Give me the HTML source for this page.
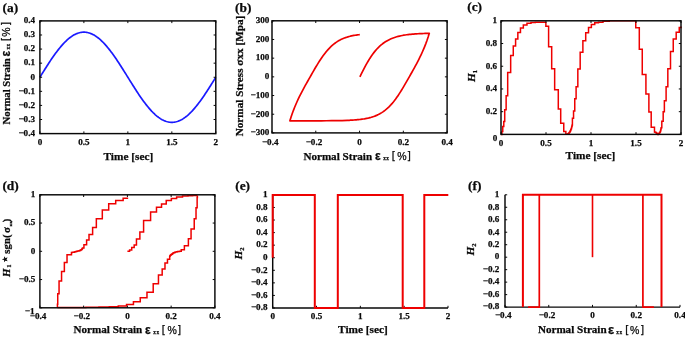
<!DOCTYPE html>
<html><head><meta charset="utf-8"><title>Figure</title>
<style>
html,body{margin:0;padding:0;background:#fff;}
body{width:685px;height:337px;overflow:hidden;font-family:"Liberation Serif",serif;}
svg{display:block;will-change:transform;filter:blur(0.3px);}
svg text{font-family:"Liberation Serif",serif;font-weight:bold;fill:#0a0a0a;stroke:#0a0a0a;stroke-width:0.25px;}
</style></head><body>
<svg width="685" height="337" viewBox="0 0 685 337">
<path d="M39.9 77.25L40.78 75.83L41.66 74.42L42.54 73.01L43.42 71.6L44.3 70.2L45.18 68.8L46.06 67.42L46.94 66.04L47.82 64.67L48.7 63.32L49.57 61.98L50.45 60.65L51.33 59.35L52.21 58.06L53.09 56.78L53.97 55.53L54.85 54.3L55.73 53.09L56.61 51.91L57.49 50.75L58.37 49.62L59.25 48.51L60.13 47.44L61.01 46.39L61.89 45.37L62.77 44.39L63.65 43.43L64.53 42.52L65.41 41.63L66.28 40.78L67.16 39.97L68.04 39.19L68.92 38.45L69.8 37.75L70.68 37.08L71.56 36.46L72.44 35.88L73.32 35.34L74.2 34.84L75.08 34.38L75.96 33.96L76.84 33.59L77.72 33.26L78.6 32.97L79.48 32.73L80.36 32.53L81.24 32.37L82.12 32.26L83 32.19L83.88 32.17L84.75 32.19L85.63 32.26L86.51 32.37L87.39 32.53L88.27 32.73L89.15 32.97L90.03 33.26L90.91 33.59L91.79 33.96L92.67 34.38L93.55 34.84L94.43 35.34L95.31 35.88L96.19 36.46L97.07 37.08L97.95 37.75L98.83 38.45L99.71 39.19L100.59 39.97L101.47 40.78L102.34 41.63L103.22 42.52L104.1 43.43L104.98 44.39L105.86 45.37L106.74 46.39L107.62 47.44L108.5 48.51L109.38 49.62L110.26 50.75L111.14 51.91L112.02 53.09L112.9 54.3L113.78 55.53L114.66 56.78L115.54 58.06L116.42 59.35L117.3 60.65L118.18 61.98L119.06 63.32L119.93 64.67L120.81 66.04L121.69 67.42L122.57 68.8L123.45 70.2L124.33 71.6L125.21 73.01L126.09 74.42L126.97 75.83L127.85 77.25L128.73 78.67L129.61 80.08L130.49 81.49L131.37 82.9L132.25 84.3L133.13 85.7L134.01 87.08L134.89 88.46L135.77 89.83L136.65 91.18L137.52 92.52L138.4 93.85L139.28 95.15L140.16 96.44L141.04 97.72L141.92 98.97L142.8 100.2L143.68 101.41L144.56 102.59L145.44 103.75L146.32 104.88L147.2 105.99L148.08 107.06L148.96 108.11L149.84 109.13L150.72 110.11L151.6 111.07L152.48 111.98L153.36 112.87L154.24 113.72L155.11 114.53L155.99 115.31L156.87 116.05L157.75 116.75L158.63 117.42L159.51 118.04L160.39 118.62L161.27 119.16L162.15 119.66L163.03 120.12L163.91 120.54L164.79 120.91L165.67 121.24L166.55 121.53L167.43 121.77L168.31 121.97L169.19 122.13L170.07 122.24L170.95 122.31L171.83 122.33L172.7 122.31L173.58 122.24L174.46 122.13L175.34 121.97L176.22 121.77L177.1 121.53L177.98 121.24L178.86 120.91L179.74 120.54L180.62 120.12L181.5 119.66L182.38 119.16L183.26 118.62L184.14 118.04L185.02 117.42L185.9 116.75L186.78 116.05L187.66 115.31L188.54 114.53L189.42 113.72L190.29 112.87L191.17 111.98L192.05 111.07L192.93 110.11L193.81 109.13L194.69 108.11L195.57 107.06L196.45 105.99L197.33 104.88L198.21 103.75L199.09 102.59L199.97 101.41L200.85 100.2L201.73 98.97L202.61 97.72L203.49 96.44L204.37 95.15L205.25 93.85L206.13 92.52L207 91.18L207.88 89.83L208.76 88.46L209.64 87.08L210.52 85.7L211.4 84.3L212.28 82.9L213.16 81.49L214.04 80.08L214.92 78.67L215.8 77.25" fill="none" stroke="#1a1aff" stroke-width="1.7" stroke-linejoin="round" stroke-linecap="butt"/>
<rect x="39.9" y="20.9" width="175.9" height="112.7" fill="none" stroke="#080808" stroke-width="1.45"/>
<path d="M39.9 133.6v-2.2M39.9 20.9v2.2M83.88 133.6v-2.2M83.88 20.9v2.2M127.85 133.6v-2.2M127.85 20.9v2.2M171.83 133.6v-2.2M171.83 20.9v2.2M215.8 133.6v-2.2M215.8 20.9v2.2M39.9 20.9h2.2M215.8 20.9h-2.2M39.9 34.99h2.2M215.8 34.99h-2.2M39.9 49.07h2.2M215.8 49.07h-2.2M39.9 63.16h2.2M215.8 63.16h-2.2M39.9 77.25h2.2M215.8 77.25h-2.2M39.9 91.34h2.2M215.8 91.34h-2.2M39.9 105.42h2.2M215.8 105.42h-2.2M39.9 119.51h2.2M215.8 119.51h-2.2M39.9 133.6h2.2M215.8 133.6h-2.2" fill="none" stroke="#080808" stroke-width="1.0"/>
<text x="39.9" y="144.6" font-size="9.1" text-anchor="middle" >0</text>
<text x="83.88" y="144.6" font-size="9.1" text-anchor="middle" >0.5</text>
<text x="127.85" y="144.6" font-size="9.1" text-anchor="middle" >1</text>
<text x="171.83" y="144.6" font-size="9.1" text-anchor="middle" >1.5</text>
<text x="215.8" y="144.6" font-size="9.1" text-anchor="middle" >2</text>
<text x="35" y="23.2" font-size="9.1" text-anchor="end" >0.4</text>
<text x="35" y="37.29" font-size="9.1" text-anchor="end" >0.3</text>
<text x="35" y="51.37" font-size="9.1" text-anchor="end" >0.2</text>
<text x="35" y="65.46" font-size="9.1" text-anchor="end" >0.1</text>
<text x="35" y="79.55" font-size="9.1" text-anchor="end" >0</text>
<text x="35" y="93.64" font-size="9.1" text-anchor="end" >−0.1</text>
<text x="35" y="107.72" font-size="9.1" text-anchor="end" >−0.2</text>
<text x="35" y="121.81" font-size="9.1" text-anchor="end" >−0.3</text>
<text x="35" y="135.9" font-size="9.1" text-anchor="end" >−0.4</text>
<text x="128.35" y="159.9" font-size="11.3" text-anchor="middle" >Time [sec]</text>
<text x="2.6" y="11.6" font-size="13.4" text-anchor="start" >(a)</text>
<g transform="translate(9.7 124.4) rotate(-90)">
<text x="0" y="0" font-size="10.7" text-anchor="start" >Normal Strain</text>
<text x="68" y="0.3" font-size="12" text-anchor="start" style="font-family:'Liberation Sans'">&#949;</text>
<text x="74.8" y="0.2" font-size="5.2" text-anchor="start" letter-spacing="0.5">xx</text>
<text x="83.3" y="-0.4" font-size="11" text-anchor="start" style="font-family:'Liberation Sans';font-weight:normal">[</text>
<text x="87.6" y="0.2" font-size="10.5" text-anchor="start" style="font-family:'Liberation Sans';font-weight:normal">%</text>
<text x="99.4" y="-0.4" font-size="11" text-anchor="start" style="font-family:'Liberation Sans';font-weight:normal">]</text>
</g>
<path d="M359.9 76.9L361.32 73.99L362.73 71.14L364.15 68.37L365.57 65.7L366.98 63.14L368.4 60.71L369.81 58.42L371.23 56.26L372.65 54.25L374.06 52.37L375.48 50.63L376.9 49.02L378.31 47.54L379.73 46.18L381.14 44.93L382.56 43.79L383.98 42.74L385.39 41.8L386.81 40.93L388.23 40.15L389.64 39.44L391.06 38.8L392.48 38.21L393.89 37.69L395.31 37.21L396.72 36.79L398.14 36.4L399.56 36.05L400.97 35.74L402.39 35.46L403.81 35.21L405.22 34.98L406.64 34.78L408.06 34.59L409.47 34.43L410.89 34.28L412.3 34.15L413.72 34.03L415.14 33.92L416.55 33.83L417.97 33.74L419.39 33.66L420.8 33.59L422.22 33.53L423.63 33.48L425.05 33.43L426.47 33.38L427.88 33.34L429.3 33.31L429.3 33.31L428.14 37.01L426.98 40.43L425.82 43.61L424.66 46.58L423.5 49.38L422.34 52.03L421.18 54.56L420.02 56.99L418.87 59.33L417.71 61.6L416.55 63.8L415.39 65.96L414.23 68.08L413.07 70.16L411.91 72.23L410.75 74.27L409.59 76.31L408.43 78.35L407.27 80.39L406.11 82.41L404.95 84.42L403.79 86.4L402.63 88.34L401.47 90.25L400.31 92.11L399.16 93.91L398 95.66L396.84 97.34L395.68 98.96L394.52 100.5L393.36 101.97L392.2 103.36L391.04 104.68L389.88 105.92L388.72 107.09L387.56 108.19L386.4 109.21L385.24 110.16L384.08 111.05L382.92 111.87L381.76 112.64L380.6 113.34L379.44 113.99L378.29 114.59L377.13 115.14L375.97 115.64L374.81 116.11L373.65 116.53L372.49 116.92L371.33 117.28L370.17 117.6L369.01 117.9L367.85 118.17L366.69 118.41L365.53 118.63L364.37 118.84L363.21 119.02L362.05 119.19L360.89 119.34L359.73 119.48L358.58 119.61L357.42 119.72L356.26 119.83L355.1 119.92L353.94 120.01L352.78 120.08L351.62 120.15L350.46 120.22L349.3 120.28L347.3 120.36L342.08 120.53L336.86 120.64L331.65 120.71L326.43 120.75L321.21 120.78L315.99 120.8L310.77 120.81L305.55 120.81L300.34 120.82L295.12 120.82L289.9 120.82L289.9 120.82L291.08 117.04L292.27 113.56L293.45 110.33L294.64 107.3L295.82 104.46L297.01 101.76L298.19 99.19L299.38 96.72L300.56 94.35L301.75 92.05L302.93 89.8L304.12 87.61L305.3 85.46L306.49 83.34L307.67 81.23L308.86 79.14L310.04 77.06L311.23 74.98L312.41 72.9L313.59 70.84L314.78 68.8L315.96 66.79L317.15 64.82L318.33 62.9L319.52 61.03L320.7 59.22L321.89 57.47L323.07 55.79L324.26 54.19L325.44 52.66L326.63 51.21L327.81 49.84L329 48.55L330.18 47.33L331.37 46.2L332.55 45.13L333.74 44.14L334.92 43.23L336.11 42.37L337.29 41.59L338.47 40.86L339.66 40.19L340.84 39.58L342.03 39.01L343.21 38.49L344.4 38.02L345.58 37.59L346.77 37.19L347.95 36.83L349.14 36.5L350.32 36.2L351.51 35.93L352.69 35.68L353.88 35.46L355.06 35.25L356.25 35.07L357.43 34.9L358.62 34.75L359.8 34.61" fill="none" stroke="#ee0000" stroke-width="1.7" stroke-linejoin="round" stroke-linecap="butt"/>
<rect x="272" y="20.8" width="175.1" height="112.1" fill="none" stroke="#080808" stroke-width="1.45"/>
<path d="M272 132.9v-2.2M272 20.8v2.2M315.77 132.9v-2.2M315.77 20.8v2.2M359.55 132.9v-2.2M359.55 20.8v2.2M403.33 132.9v-2.2M403.33 20.8v2.2M447.1 132.9v-2.2M447.1 20.8v2.2M272 20.8h2.2M447.1 20.8h-2.2M272 39.48h2.2M447.1 39.48h-2.2M272 58.17h2.2M447.1 58.17h-2.2M272 76.85h2.2M447.1 76.85h-2.2M272 95.53h2.2M447.1 95.53h-2.2M272 114.22h2.2M447.1 114.22h-2.2M272 132.9h2.2M447.1 132.9h-2.2" fill="none" stroke="#080808" stroke-width="1.0"/>
<text x="270.2" y="144.6" font-size="9.1" text-anchor="middle" >−0.4</text>
<text x="313.97" y="144.6" font-size="9.1" text-anchor="middle" >−0.2</text>
<text x="359.55" y="144.6" font-size="9.1" text-anchor="middle" >0</text>
<text x="403.33" y="144.6" font-size="9.1" text-anchor="middle" >0.2</text>
<text x="447.1" y="144.6" font-size="9.1" text-anchor="middle" >0.4</text>
<text x="269.3" y="23.1" font-size="9.1" text-anchor="end" >300</text>
<text x="269.3" y="41.78" font-size="9.1" text-anchor="end" >200</text>
<text x="269.3" y="60.47" font-size="9.1" text-anchor="end" >100</text>
<text x="269.3" y="79.15" font-size="9.1" text-anchor="end" >0</text>
<text x="269.3" y="97.83" font-size="9.1" text-anchor="end" >−100</text>
<text x="269.3" y="116.52" font-size="9.1" text-anchor="end" >−200</text>
<text x="269.3" y="135.2" font-size="9.1" text-anchor="end" >−300</text>
<text x="235" y="11.6" font-size="13.4" text-anchor="start" >(b)</text>
<text transform="translate(243.3 136.3) rotate(-90)" font-size="11.2" text-anchor="start">Normal Stress &#963;xx [Mpa]</text>
<g transform="translate(303.4 159.6)">
<text x="0" y="0" font-size="11.1" text-anchor="start" >Normal Strain</text>
<text x="71.5" y="0.3" font-size="12" text-anchor="start" style="font-family:'Liberation Sans'">&#949;</text>
<text x="79.8" y="0.2" font-size="5.2" text-anchor="start" letter-spacing="0.5">xx</text>
<text x="88.3" y="-0.4" font-size="11" text-anchor="start" style="font-family:'Liberation Sans';font-weight:normal">[</text>
<text x="93.9" y="0.2" font-size="10.5" text-anchor="start" style="font-family:'Liberation Sans';font-weight:normal">%</text>
<text x="104.4" y="-0.4" font-size="11" text-anchor="start" style="font-family:'Liberation Sans';font-weight:normal">]</text>
</g>
<path d="M501 134.4L501.9 134.4L501.9 131.56L502.76 131.56L502.76 126.56L503.78 126.56L503.78 121.56L504.72 121.56L504.72 109.64L506.13 109.64L506.13 95.78L507.69 95.78L507.69 72.49L510.67 72.49L510.67 55.56L513.28 55.56L513.28 45.91L515.59 45.91L515.59 39.09L517.84 39.09L517.84 32.5L520.46 32.5L520.46 28.07L523.34 28.07L523.34 25L526.98 25L526.98 23.3L530.98 23.3L530.98 22.5L535.32 22.5L535.32 22.16L539.58 22.16L539.58 22.16L546 22.16L546 22.16L545.87 22.16L545.87 26.25L548.6 26.25L548.6 46.7L551.69 46.7L551.69 68.85L554.66 68.85L554.66 89.76L558.29 89.76L558.29 109.01L560.7 109.01L560.7 123.32L563.75 123.32L563.75 131.39L565.85 131.39L565.85 134.17L566.41 134.17L566.41 134.36L566.97 134.36L566.97 134.25L567.5 134.25L567.5 134.06L568.03 134.06L568.03 133.64L568.55 133.64L568.55 133.23L569.06 133.23L569.06 132.81L569.48 132.81L569.48 132.13L569.89 132.13L569.89 131.45L570.3 131.45L570.3 130.76L570.7 130.76L570.7 129.7L571.1 129.7L571.1 128.64L571.49 128.64L571.49 127.58L571.8 127.58L571.8 126.26L572.1 126.26L572.1 124.93L572.41 124.93L572.41 123.61L572.42 123.61L572.42 118.27L573.54 118.27L573.54 110.88L574.76 110.88L574.76 98.84L576.1 98.84L576.1 86.69L577.83 86.69L577.83 69.08L580.18 69.08L580.18 52.15L582.88 52.15L582.88 40.79L585.71 40.79L585.71 32.73L588.53 32.73L588.53 27.39L591.36 27.39L591.36 24.44L594.74 24.44L594.74 22.84L598.48 22.84L598.48 22.28L602.98 22.28L602.98 21.25L609.21 21.25L609.21 20.8L618.17 20.8L618.17 20.8L636 20.8L636 20.8L635.76 20.8L635.76 27.73L639.3 27.73L639.3 49.2L642.26 49.2L642.26 74.53L645.92 74.53L645.92 93.96L648.88 93.96L648.88 111.91L651.2 111.91L651.2 127.24L654.48 127.24L654.48 132.01L655.08 132.01L655.08 132.32L655.66 132.32L655.66 132.62L656.23 132.62L656.23 132.92L656.78 132.92L656.78 133.42L657.32 133.42L657.32 133.91L657.86 133.91L657.86 134.4L658.29 134.4L658.29 133.98L658.72 133.98L658.72 133.57L659.15 133.57L659.15 133.15L659.57 133.15L659.57 132.54L659.98 132.54L659.98 131.94L660.39 131.94L660.39 131.33L660.63 131.33L660.63 130.16L660.87 130.16L660.87 128.99L661.1 128.99L661.1 127.81L661.81 127.81L661.81 121.22L663.18 121.22L663.18 111.68L664.37 111.68L664.37 100.66L666.1 100.66L666.1 86.69L667.83 86.69L667.83 68.74L670.5 68.74L670.5 51.47L673.25 51.47L673.25 38.98L676.19 38.98L676.19 32.16L679.25 32.16L679.25 27.62L681 27.62L681 26.48" fill="none" stroke="#ee0000" stroke-width="1.5" stroke-linejoin="miter" stroke-linecap="butt"/>
<rect x="501" y="20.8" width="180" height="113.6" fill="none" stroke="#080808" stroke-width="1.45"/>
<path d="M501 134.4v-2.2M501 20.8v2.2M546 134.4v-2.2M546 20.8v2.2M591 134.4v-2.2M591 20.8v2.2M636 134.4v-2.2M636 20.8v2.2M681 134.4v-2.2M681 20.8v2.2M501 20.8h2.2M681 20.8h-2.2M501 43.52h2.2M681 43.52h-2.2M501 66.24h2.2M681 66.24h-2.2M501 88.96h2.2M681 88.96h-2.2M501 111.68h2.2M681 111.68h-2.2M501 134.4h2.2M681 134.4h-2.2" fill="none" stroke="#080808" stroke-width="1.0"/>
<text x="501" y="145.6" font-size="9.1" text-anchor="middle" >0</text>
<text x="546" y="145.6" font-size="9.1" text-anchor="middle" >0.5</text>
<text x="591" y="145.6" font-size="9.1" text-anchor="middle" >1</text>
<text x="636" y="145.6" font-size="9.1" text-anchor="middle" >1.5</text>
<text x="681" y="145.6" font-size="9.1" text-anchor="middle" >2</text>
<text x="497.1" y="23.1" font-size="9.1" text-anchor="end" >1</text>
<text x="497.1" y="45.82" font-size="9.1" text-anchor="end" >0.8</text>
<text x="497.1" y="68.54" font-size="9.1" text-anchor="end" >0.6</text>
<text x="497.1" y="91.26" font-size="9.1" text-anchor="end" >0.4</text>
<text x="497.1" y="113.98" font-size="9.1" text-anchor="end" >0.2</text>
<text x="497.4" y="140.5" font-size="9.1" text-anchor="end" >0</text>
<text x="590.4" y="159.3" font-size="11.3" text-anchor="middle" >Time [sec]</text>
<text x="467.2" y="11.3" font-size="13.4" text-anchor="start" >(c)</text>
<text transform="translate(475.4 82) rotate(-90)" font-size="11.3" font-style="italic" text-anchor="start">H<tspan font-size="6.5" font-style="normal" dy="1.6">1</tspan></text>
<path d="M127.4 251.3L129.59 251.3L129.59 249.89L131.71 249.89L131.71 247.4L134.18 247.4L134.18 244.92L136.46 244.92L136.46 238.98L139.87 238.98L139.87 232.09L143.59 232.09L143.59 220.51L150.59 220.51L150.59 212.09L156.49 212.09L156.49 207.29L161.53 207.29L161.53 203.9L166.23 203.9L166.23 200.62L171.37 200.62L171.37 198.42L176.62 198.42L176.62 196.89L182.53 196.89L182.53 196.04L187.99 196.04L187.99 195.65L192.59 195.65L192.59 195.48L195.65 195.48L195.65 195.48L197.4 195.48L197.4 195.48L197.38 195.48L197.38 197.51L197.14 197.51L197.14 207.68L196.02 207.68L196.02 218.7L194.23 218.7L194.23 229.1L191.06 229.1L191.06 238.67L188.39 238.67L188.39 245.79L184.38 245.79L184.38 249.8L181.26 249.8L181.26 251.19L180.37 251.19L180.37 251.28L179.48 251.28L179.48 251.38L178.59 251.38L178.59 251.47L177.7 251.47L177.7 251.68L176.81 251.68L176.81 251.88L175.92 251.88L175.92 252.09L175.18 252.09L175.18 252.43L174.43 252.43L174.43 252.77L173.69 252.77L173.69 253.11L172.95 253.11L172.95 253.64L172.21 253.64L172.21 254.16L171.48 254.16L171.48 254.69L170.89 254.69L170.89 255.35L170.3 255.35L170.3 256.01L169.71 256.01L169.71 256.67L169.68 256.67L169.68 259.32L167.47 259.32L167.47 263L164.98 263L164.98 268.98L162.18 268.98L162.18 275.03L158.46 275.03L158.46 283.79L153.21 283.79L153.21 292.21L146.98 292.21L146.98 297.86L140.26 297.86L140.26 301.87L133.44 301.87L133.44 304.52L126.53 304.52L126.53 305.99L118.28 305.99L118.28 306.78L109.33 306.78L109.33 307.07L98.96 307.07L98.96 307.35L85.84 307.35L85.84 307.4L70.53 307.4L70.53 307.4L57.4 307.4L57.4 307.4L57.42 307.4L57.42 304.35L57.73 304.35L57.73 293.68L59.06 293.68L59.06 281.08L61.56 281.08L61.56 271.41L64.36 271.41L64.36 262.49L67.03 262.49L67.03 254.86L71.47 254.86L71.47 252.49L72.36 252.49L72.36 252.34L73.24 252.34L73.24 252.19L74.13 252.19L74.13 252.03L75.02 252.03L75.02 251.79L75.91 251.79L75.91 251.54L76.8 251.54L76.8 251.3L77.55 251.3L77.55 251.09L78.29 251.09L78.29 250.89L79.03 250.89L79.03 250.68L79.78 250.68L79.78 250.38L80.52 250.38L80.52 250.08L81.27 250.08L81.27 249.77L81.71 249.77L81.71 249.19L82.16 249.19L82.16 248.61L82.6 248.61L82.6 248.02L83.93 248.02L83.93 244.75L86.6 244.75L86.6 240L89.01 240L89.01 234.52L92.62 234.52L92.62 227.57L96.34 227.57L96.34 218.64L102.31 218.64L102.31 210.06L108.7 210.06L108.7 203.84L115.7 203.84L115.7 200.45L123.13 200.45L123.13 198.19L127.4 198.19L127.4 197.62" fill="none" stroke="#ee0000" stroke-width="1.5" stroke-linejoin="miter" stroke-linecap="butt"/>
<rect x="39.9" y="194.8" width="175" height="113" fill="none" stroke="#080808" stroke-width="1.45"/>
<path d="M39.9 307.8v-2.2M39.9 194.8v2.2M83.65 307.8v-2.2M83.65 194.8v2.2M127.4 307.8v-2.2M127.4 194.8v2.2M171.15 307.8v-2.2M171.15 194.8v2.2M214.9 307.8v-2.2M214.9 194.8v2.2M39.9 194.8h2.2M214.9 194.8h-2.2M39.9 223.05h2.2M214.9 223.05h-2.2M39.9 251.3h2.2M214.9 251.3h-2.2M39.9 279.55h2.2M214.9 279.55h-2.2M39.9 307.8h2.2M214.9 307.8h-2.2" fill="none" stroke="#080808" stroke-width="1.0"/>
<text x="38.1" y="319" font-size="9.1" text-anchor="middle" >−0.4</text>
<text x="81.85" y="319" font-size="9.1" text-anchor="middle" >−0.2</text>
<text x="127.4" y="319" font-size="9.1" text-anchor="middle" >0</text>
<text x="171.15" y="319" font-size="9.1" text-anchor="middle" >0.2</text>
<text x="214.9" y="319" font-size="9.1" text-anchor="middle" >0.4</text>
<text x="35.4" y="197.1" font-size="9.1" text-anchor="end" >1</text>
<text x="35.4" y="225.35" font-size="9.1" text-anchor="end" >0.5</text>
<text x="35.4" y="253.6" font-size="9.1" text-anchor="end" >0</text>
<text x="35.4" y="281.85" font-size="9.1" text-anchor="end" >−0.5</text>
<text x="34.6" y="314" font-size="9.1" text-anchor="end" >−1</text>
<text x="2.4" y="189.6" font-size="13.4" text-anchor="start" >(d)</text>
<g transform="translate(10.2 277) rotate(-90)">
<text x="0" y="0" font-size="10.8" text-anchor="start" style="font-style:italic">H</text>
<text x="9.3" y="1.1" font-size="6.5" text-anchor="start" >1</text>
<text x="15.2" y="-3.6" font-size="5.8" text-anchor="start" >&#9733;</text>
<text x="23.3" y="0" font-size="10.8" text-anchor="start" >sgn(</text>
<text x="44" y="0" font-size="10.8" text-anchor="start" >&#963;</text>
<text x="50.5" y="1.5" font-size="4.8" text-anchor="start" letter-spacing="0.3">xx</text>
<text x="54.7" y="0" font-size="10.8" text-anchor="start" >)</text>
</g>
<g transform="translate(73.5 333.3)">
<text x="0" y="0" font-size="11.1" text-anchor="start" >Normal Strain</text>
<text x="71.5" y="0.3" font-size="12" text-anchor="start" style="font-family:'Liberation Sans'">&#949;</text>
<text x="79.8" y="0.2" font-size="5.2" text-anchor="start" letter-spacing="0.5">xx</text>
<text x="88.3" y="-0.4" font-size="11" text-anchor="start" style="font-family:'Liberation Sans';font-weight:normal">[</text>
<text x="93.9" y="0.2" font-size="10.5" text-anchor="start" style="font-family:'Liberation Sans';font-weight:normal">%</text>
<text x="104.4" y="-0.4" font-size="11" text-anchor="start" style="font-family:'Liberation Sans';font-weight:normal">]</text>
</g>
<path d="M272.7 194.9V308H448" fill="none" stroke="#080808" stroke-width="1.45"/>
<path d="M272.7 308v-2.2M316.52 308v-2.2M360.35 308v-2.2M404.18 308v-2.2M448 308v-2.2M272.7 194.9h2.2M272.7 207.47h2.2M272.7 220.03h2.2M272.7 232.6h2.2M272.7 245.17h2.2M272.7 257.73h2.2M272.7 270.3h2.2M272.7 282.87h2.2M272.7 295.43h2.2M272.7 308h2.2" fill="none" stroke="#080808" stroke-width="1.0"/>
<path d="M272.7 257.73L272.7 194.9L314.8 194.9L314.8 308L337.8 308L337.8 194.9L402.7 194.9L402.7 308L424.3 308L424.3 194.9L448.3 194.9" fill="none" stroke="#ee0000" stroke-width="2.0" stroke-linejoin="miter" stroke-linecap="butt"/>
<text x="272.7" y="319" font-size="9.1" text-anchor="middle" >0</text>
<text x="316.52" y="319" font-size="9.1" text-anchor="middle" >0.5</text>
<text x="360.35" y="319" font-size="9.1" text-anchor="middle" >1</text>
<text x="404.18" y="319" font-size="9.1" text-anchor="middle" >1.5</text>
<text x="448" y="319" font-size="9.1" text-anchor="middle" >2</text>
<text x="267.5" y="197.2" font-size="9.1" text-anchor="end" >1</text>
<text x="267.5" y="209.77" font-size="9.1" text-anchor="end" >0.8</text>
<text x="267.5" y="222.33" font-size="9.1" text-anchor="end" >0.6</text>
<text x="267.5" y="234.9" font-size="9.1" text-anchor="end" >0.4</text>
<text x="267.5" y="247.47" font-size="9.1" text-anchor="end" >0.2</text>
<text x="267.5" y="260.03" font-size="9.1" text-anchor="end" >0</text>
<text x="267.5" y="272.6" font-size="9.1" text-anchor="end" >−0.2</text>
<text x="267.5" y="285.17" font-size="9.1" text-anchor="end" >−0.4</text>
<text x="267.5" y="297.73" font-size="9.1" text-anchor="end" >−0.6</text>
<text x="267.5" y="310.3" font-size="9.1" text-anchor="end" >−0.8</text>
<text x="362.9" y="333.4" font-size="11.3" text-anchor="middle" >Time [sec]</text>
<text x="235.2" y="189.6" font-size="13.4" text-anchor="start" >(e)</text>
<text transform="translate(242 259.5) rotate(-90)" font-size="11.3" font-style="italic" text-anchor="start">H<tspan font-size="6.5" font-style="normal" dy="1.6">2</tspan></text>
<path d="M505 194.8V307.1H680" fill="none" stroke="#080808" stroke-width="1.45"/>
<path d="M505 307.1v-2.2M548.75 307.1v-2.2M592.5 307.1v-2.2M636.25 307.1v-2.2M680 307.1v-2.2M505 194.8h2.2M505 207.28h2.2M505 219.76h2.2M505 232.23h2.2M505 244.71h2.2M505 257.19h2.2M505 269.67h2.2M505 282.14h2.2M505 294.62h2.2M505 307.1h2.2" fill="none" stroke="#080808" stroke-width="1.0"/>
<path d="M592.5 257.19L592.5 194.8" fill="none" stroke="#ee0000" stroke-width="1.6" stroke-linejoin="round" stroke-linecap="butt"/>
<path d="M528.1 307.1L539.3 307.1L539.3 194.8" fill="none" stroke="#ee0000" stroke-width="1.7" stroke-linejoin="miter" stroke-linecap="butt"/>
<path d="M522.9 307.1L522.9 194.8L661.5 194.8L661.5 307.1" fill="none" stroke="#ee0000" stroke-width="2.0" stroke-linejoin="miter" stroke-linecap="butt"/>
<path d="M653.9 307.1L642.9 307.1L642.9 194.8" fill="none" stroke="#ee0000" stroke-width="1.7" stroke-linejoin="miter" stroke-linecap="butt"/>
<text x="503.2" y="318.2" font-size="9.1" text-anchor="middle" >−0.4</text>
<text x="546.95" y="318.2" font-size="9.1" text-anchor="middle" >−0.2</text>
<text x="592.5" y="318.2" font-size="9.1" text-anchor="middle" >0</text>
<text x="636.25" y="318.2" font-size="9.1" text-anchor="middle" >0.2</text>
<text x="680" y="318.2" font-size="9.1" text-anchor="middle" >0.4</text>
<text x="499.4" y="197.1" font-size="9.1" text-anchor="end" >1</text>
<text x="499.4" y="209.58" font-size="9.1" text-anchor="end" >0.8</text>
<text x="499.4" y="222.06" font-size="9.1" text-anchor="end" >0.6</text>
<text x="499.4" y="234.53" font-size="9.1" text-anchor="end" >0.4</text>
<text x="499.4" y="247.01" font-size="9.1" text-anchor="end" >0.2</text>
<text x="499.4" y="259.49" font-size="9.1" text-anchor="end" >0</text>
<text x="499.4" y="271.97" font-size="9.1" text-anchor="end" >−0.2</text>
<text x="499.4" y="284.44" font-size="9.1" text-anchor="end" >−0.4</text>
<text x="499.4" y="296.92" font-size="9.1" text-anchor="end" >−0.6</text>
<text x="499.4" y="309.4" font-size="9.1" text-anchor="end" >−0.8</text>
<text x="468" y="189.6" font-size="13.4" text-anchor="start" >(f)</text>
<text transform="translate(474.4 255.5) rotate(-90)" font-size="11.3" font-style="italic" text-anchor="start">H<tspan font-size="6.5" font-style="normal" dy="1.6">2</tspan></text>
<g transform="translate(537.9 333.4)">
<text x="0" y="0" font-size="11.1" text-anchor="start" >Normal Strain</text>
<text x="70" y="0.3" font-size="13" text-anchor="start" style="font-family:'Liberation Sans'">&#949;</text>
<text x="78.4" y="0.2" font-size="5.2" text-anchor="start" letter-spacing="0.5">xx</text>
<text x="87.3" y="-0.4" font-size="11" text-anchor="start" style="font-family:'Liberation Sans';font-weight:normal">[</text>
<text x="92" y="0.2" font-size="10.5" text-anchor="start" style="font-family:'Liberation Sans';font-weight:normal">%</text>
<text x="103" y="-0.4" font-size="11" text-anchor="start" style="font-family:'Liberation Sans';font-weight:normal">]</text>
</g>
</svg>
</body></html>
